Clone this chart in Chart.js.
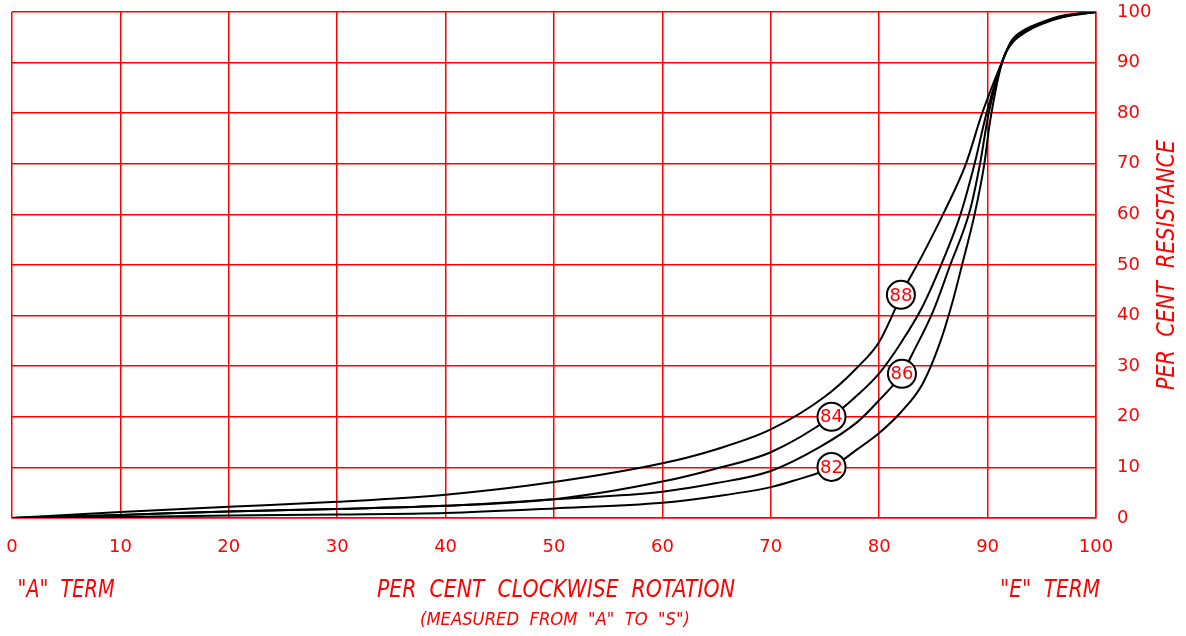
<!DOCTYPE html>
<html lang="en">
<head>
<meta charset="UTF-8">
<title>Per cent resistance</title>
<script src="https://cdn.jsdelivr.net/npm/chart.js"></script>
<style>
    html, body { margin: 0; padding: 0; background: #fff; }
    #caixa { width: 1186px; height: 636px; position: relative; }
</style>
</head>
<body>
<div id="caixa"><canvas id="grafico"></canvas></div>

<script>
    // curva 88 (a de cima)
    const rot88 = [0, 10, 20, 30, 40, 50, 60, 65, 70, 75, 78, 80, 81.2, 82, 84, 86, 88, 89.5, 91.4, 92.2, 93.5, 95, 97, 100]
    const res88 = [0, 1.2, 2.2, 3.2, 4.6, 7.1, 10.8, 13.6, 17.5, 24, 29.8, 34.8, 40, 44, 52, 60.5, 70, 80, 90.5, 94.3, 96.6, 98, 99.3, 100]

    // curva 84
    const rot84 = [0, 10, 20, 30, 40, 50, 60, 65, 70, 75.6, 78, 80, 82, 84, 86, 87.5, 88.8, 89.9, 91.4, 92.2, 93.5, 95, 97, 100]
    const res84 = [0, 0.6, 1.3, 1.8, 2.4, 3.7, 7.2, 9.8, 13, 20, 24.3, 28.6, 34.6, 41.8, 51.5, 60, 70, 80, 90.5, 94.1, 96.4, 97.9, 99.2, 100]

    // curva 86
    const rot86 = [0, 10, 20, 30, 40, 50, 60, 65, 70, 74.5, 78, 80, 82.1, 83.1, 85, 86.5, 88.4, 89.3, 90.1, 91.4, 92.2, 93.5, 95, 97, 100]
    const res86 = [0, 0.6, 1.3, 1.8, 2.4, 3.7, 5.2, 6.9, 9.3, 14, 19, 23.3, 28.5, 32.6, 41, 49.7, 61, 70, 80, 90.5, 93.9, 96.2, 97.8, 99.1, 100]

    // curva 82 (a de baixo)
    const rot82 = [0, 10, 20, 30, 40, 50, 60, 65, 70, 72, 75.6, 78, 80, 82, 84, 85.6, 86.8, 87.7, 88.8, 89.7, 90.2, 91.4, 92.2, 93.5, 95, 97, 100]
    const res82 = [0, 0.2, 0.5, 0.7, 1.0, 1.9, 3.0, 4.3, 6.1, 7.3, 10, 13.6, 16.8, 20.9, 26.5, 34.6, 43, 50.5, 60, 70, 78, 90.5, 93.7, 96, 97.6, 99, 100]

    // etiquetas nos circulos
    const tagNames = ['88', '84', '86', '82']
    const tagX = [82.0, 75.6, 82.1, 75.6]
    const tagY = [44.1, 20.0, 28.5, 10.1]

    const xTicks = [0, 10, 20, 30, 40, 50, 60, 70, 80, 90, 100]
    const yTicks = [0, 10, 20, 30, 40, 50, 60, 70, 80, 90, 100]

    const vermelho = '#ff0000'
    const fonte = '"DejaVu Sans", sans-serif'

    function pontos(xs, ys) {
        return xs.map((x, i) => ({ x: x, y: ys[i] }))
    }

    function linha(nome, xs, ys) {
        return {
            label: nome,
            data: pontos(xs, ys),
            borderColor: '#000',
            borderWidth: 2,
            pointRadius: 0,
            fill: false,
            cubicInterpolationMode: 'monotone'
        }
    }

    // texto italico "apertado" como o da planta
    function escrever(ctx, txt, x, y, tam, larg, ang) {
        ctx.save()
        ctx.translate(x, y)
        ctx.rotate(ang || 0)
        ctx.font = 'italic ' + tam + 'px ' + fonte
        const m = ctx.measureText(txt).width
        ctx.scale(larg / m, 1)
        ctx.textAlign = 'center'
        ctx.textBaseline = 'middle'
        ctx.fillStyle = vermelho
        ctx.fillText(txt, 0, 0)
        ctx.restore()
    }

    const extras = {
        id: 'extras',
        afterDatasetsDraw(chart) {
            const ctx = chart.ctx
            const sx = chart.scales.x
            const sy = chart.scales.y

            // circulos com os numeros
            for (let i = 0; i < tagNames.length; i++) {
                const px = sx.getPixelForValue(tagX[i])
                const py = sy.getPixelForValue(tagY[i])
                ctx.save()
                ctx.beginPath()
                ctx.arc(px, py, 14, 0, Math.PI * 2)
                ctx.fillStyle = '#fff'
                ctx.fill()
                ctx.lineWidth = 2
                ctx.strokeStyle = '#000'
                ctx.stroke()
                ctx.font = '18px ' + fonte
                ctx.fillStyle = vermelho
                ctx.textAlign = 'center'
                ctx.textBaseline = 'middle'
                ctx.fillText(tagNames[i], px, py + 1)
                ctx.restore()
            }

            // titulos
            escrever(ctx, '"A"  TERM', 66, 591, 24, 97)
            escrever(ctx, 'PER  CENT  CLOCKWISE  ROTATION', 556, 591, 24, 358)
            escrever(ctx, '"E"  TERM', 1050, 591, 24, 100)
            escrever(ctx, '(MEASURED  FROM  "A"  TO  "S")', 555, 621, 17, 270)
            escrever(ctx, 'PER  CENT  RESISTANCE', 1168, 265, 24, 250, -Math.PI / 2)
        }
    }

    const config = {
        type: 'line',
        data: {
            datasets: [
                linha('88', rot88, res88),
                linha('84', rot84, res84),
                linha('86', rot86, res86),
                linha('82', rot82, res82)
            ]
        },
        options: {
            responsive: true,
            maintainAspectRatio: false,
            animation: false,
            layout: { padding: { left: 12, top: 12, right: 0, bottom: 0 } },
            plugins: {
                legend: { display: false },
                tooltip: { enabled: false }
            },
            scales: {
                x: {
                    type: 'linear',
                    min: 0,
                    max: 100,
                    afterFit: s => { s.height = 118; s.paddingLeft = 0; s.paddingRight = 0 },
                    afterBuildTicks: s => { s.ticks = xTicks.map(v => ({ value: v })) },
                    grid: { color: vermelho, lineWidth: 1.5, drawTicks: false },
                    border: { color: vermelho, width: 1.5 },
                    ticks: { color: vermelho, padding: 19, maxRotation: 0, font: { family: fonte, size: 18 } }
                },
                y: {
                    type: 'linear',
                    position: 'right',
                    min: 0,
                    max: 100,
                    afterFit: s => { s.width = 90; s.paddingTop = 0; s.paddingBottom = 0 },
                    afterBuildTicks: s => { s.ticks = yTicks.map(v => ({ value: v })) },
                    grid: { color: vermelho, lineWidth: 1.5, drawTicks: false },
                    border: { color: vermelho, width: 1.5 },
                    ticks: { color: vermelho, padding: 21, crossAlign: 'near', font: { family: fonte, size: 18 } }
                }
            }
        },
        plugins: [extras]
    }

    const grafico = new Chart(document.getElementById('grafico'), config)
</script>
</body>
</html>
